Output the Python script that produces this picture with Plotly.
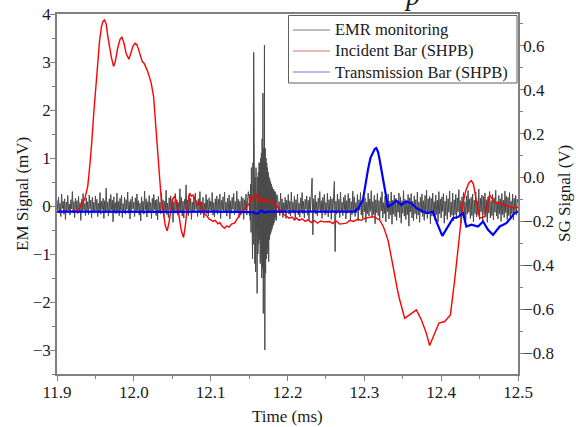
import numpy as np
import plotly.graph_objects as go

# ---------------- data ----------------
# EMR monitoring (mV), left axis; three sampled segments
emr_a_start, emr_a_step = 11.900, 0.001
emr_a = [0.12, -0.08, 0.18, -0.15, 0.06, -0.22, 0.25, -0.05, 0.10, -0.17,
         0.15, -0.28, 0.08, -0.11, 0.22, -0.09, 0.04, -0.19, 0.13, -0.06,
         0.30, -0.14, 0.09, -0.24, 0.16, -0.07, 0.11, -0.16, 0.20, -0.10,
         0.07, -0.30, 0.14, -0.12, 0.26, -0.08, 0.05, -0.20, 0.17, -0.13,
         0.09, -0.18, 0.23, -0.06, 0.12, -0.25, 0.18, -0.11, 0.08, -0.15,
         0.21, -0.09, 0.14, -0.22, 0.06, -0.13, 0.28, -0.17, 0.10, -0.07,
         0.16, -0.26, 0.11, -0.14, 0.37, -0.10, 0.08, -0.21, 0.15, -0.12,
         0.24, -0.08, 0.12, -0.33, 0.19, -0.10, 0.07, -0.16, 0.27, -0.13,
         0.10, -0.20, 0.16, -0.09, 0.22, -0.24, 0.05, -0.12, 0.18, -0.17,
         0.13, -0.07, 0.29, -0.15, 0.09, -0.27, 0.14, -0.10, 0.20, -0.06,
         0.08, -0.22, 0.17, -0.13, 0.25, -0.09, 0.11, -0.19, 0.06, -0.31,
         0.19, -0.12, 0.10, -0.17, 0.31, -0.08, 0.15, -0.23, 0.09, -0.14,
         0.22, -0.10, 0.07, -0.26, 0.16, -0.12, 0.24, -0.07, 0.12, -0.20,
         0.14, -0.29, 0.20, -0.11, 0.08, -0.16, 0.27, -0.09, 0.13, -0.22,
         0.10, -0.14, 0.33, -0.18, 0.06, -0.24, 0.17, -0.08, 0.21, -0.12,
         0.15, -0.34, 0.09, -0.15, 0.26, -0.10, 0.12, -0.19, 0.07, -0.13,
         0.36, -0.11, 0.18, -0.21, 0.10, -0.25, 0.14, -0.08, 0.44, -0.16,
         0.12, -0.20, 0.23, -0.09, 0.16, -0.28, 0.08, -0.14, 0.19, -0.11,
         0.27, -0.07, 0.11, -0.22, 0.15, -0.12, 0.30, -0.18, 0.09, -0.15,
         0.18, -0.25, 0.06, -0.10, 0.24, -0.16, 0.13, -0.21, 0.17, -0.08,
         0.10, -0.13, 0.28, -0.19, 0.07, -0.23, 0.15, -0.11, 0.21, -0.17,
         0.14, -0.09, 0.25, -0.26, 0.12, -0.08, 0.19, -0.14, 0.29, -0.12,
         0.08, -0.21, 0.16, -0.10, 0.23, -0.27, 0.11, -0.15, 0.18, -0.07,
         0.26, -0.18, 0.09, -0.13, 0.31, -0.11, 0.14, -0.24, 0.10, -0.16,
         0.20, -0.12, 0.17, -0.28, 0.13, -0.09, 0.25, -0.19, 0.11, 0.30]

emr_b_start, emr_b_step = 12.150, 0.0005
emr_b = [0.15, -0.20, 0.25, -0.30, 0.45, -0.55, 0.80, -0.70, 0.60, -1.10,
         0.90, -0.80, 3.20, -0.90, 0.70, -1.20, 0.60, -1.37, 0.80, -0.90,
         0.50, -1.82, 0.60, -1.00, 0.70, -0.80, 0.90, -0.70, 0.90, -1.20,
         1.00, -1.00, 1.10, -1.50, 1.40, -1.30, 2.35, -2.24, 1.20, -1.50,
         3.35, -3.00, 1.20, -1.40, 1.00, -1.10, 0.90, -1.00, 0.80, -0.90,
         0.70, -1.16, 0.60, -0.70, 0.55, -0.60, 0.50, -0.55, 0.45, -0.50,
         0.40, -0.45, 0.35, -0.40, 0.35, -0.35, 0.30, -0.30, 0.30, -0.25,
         0.25, -0.30, 0.20]

emr_c_start, emr_c_step = 12.187, 0.001
emr_c = [0.22, -0.14, 0.09, -0.20, 0.27, -0.11, 0.15, -0.24, 0.07, -0.13,
         0.18, -0.26, 0.12, -0.08, 0.24, -0.17, 0.10, -0.21, 0.29, -0.12,
         0.08, -0.15, 0.20, -0.27, 0.13, -0.09, 0.25, -0.18, 0.06, -0.23,
         0.17, -0.11, 0.28, -0.16, 0.10, -0.25, 0.14, -0.07, 0.21, -0.19,
         0.12, -0.28, 0.19, -0.10, 0.26, 0.58, -0.60, 0.15, -0.12, 0.23,
         -0.17, 0.09, -0.21, 0.16, -0.08, 0.30, -0.14, 0.11, -0.26, 0.18,
         -0.10, 0.24, -0.19, 0.07, -0.15, 0.27, -0.23, 0.13, -0.09, 0.20,
         -0.28, 0.15, -0.12, 0.22, 0.51, -0.95, 0.10, -0.17, 0.25, -0.11,
         0.14, -0.24, 0.29, -0.13, 0.08, -0.20, 0.18, -0.09, 0.23, -0.27,
         0.11, -0.15, 0.26, -0.10, 0.16, -0.29, 0.09, -0.18, 0.31, -0.12,
         0.19, -0.22, 0.07, -0.14, 0.24, -0.31, 0.13, -0.09, 0.28, -0.19,
         0.10, -0.26, 0.21, -0.12, 0.17, -0.34, 0.08, -0.16, 0.27, -0.21,
         0.15, -0.11, 0.32, -0.24, 0.09, -0.18, 0.22, -0.37, 0.13, -0.14,
         0.26, -0.20, 0.11, -0.29, 0.18, -0.10, 0.30, -0.25, 0.07, -0.16,
         0.21, -0.33, 0.14, -0.12, 0.25, -0.27, 0.10, -0.19, 0.29, -0.38,
         0.12, -0.17, 0.23, -0.22, 0.16, -0.30, 0.08, -0.13, 0.27, -0.24,
         0.19, -0.36, 0.11, -0.15, 0.32, -0.21, 0.14, -0.28, 0.09, -0.18,
         0.24, -0.42, 0.17, -0.12, 0.26, -0.25, 0.10, -0.31, 0.21, -0.16,
         0.13, -0.27, 0.29, -0.19, 0.08, -0.34, 0.18, -0.14, 0.25, -0.22,
         0.11, -0.30, 0.22, -0.17, 0.33, -0.26, 0.15, -0.12, 0.20, -0.37,
         0.16, -0.21, 0.27, -0.14, 0.09, -0.29, 0.23, -0.18, 0.12, -0.33,
         0.30, -0.16, 0.14, -0.25, 0.19, -0.11, 0.26, -0.36, 0.10, -0.20,
         0.22, -0.28, 0.15, -0.13, 0.31, -0.23, 0.08, -0.19, 0.27, -0.31,
         0.13, -0.18, 0.24, -0.27, 0.17, -0.12, 0.34, -0.22, 0.11, -0.35,
         0.19, -0.15, 0.28, -0.24, 0.09, -0.30, 0.21, -0.17, 0.32, -0.13,
         0.14, -0.26, 0.18, -0.20, 0.25, -0.33, 0.12, -0.16, 0.29, -0.23,
         0.10, -0.19, 0.35, -0.28, 0.16, -0.12, 0.23, -0.31, 0.20, -0.17,
         0.27, -0.22, 0.13, -0.34, 0.19, -0.15, 0.30, -0.25, 0.11, -0.20,
         0.24, -0.29, 0.17, -0.13, 0.33, -0.21, 0.09, -0.27, 0.22, -0.16,
         0.15, -0.32, 0.26, -0.18, 0.12, -0.24, 0.31, -0.14, 0.20, -0.28,
         0.18, -0.20, 0.28, -0.23, 0.10, -0.17, 0.25, -0.29, 0.16, -0.12,
         0.22, -0.19, 0.14, 0.08]

# Incident bar (V), right axis
inc_t = [11.900, 11.905, 11.910, 11.915, 11.920, 11.925, 11.929, 11.933, 11.936, 11.938,
         11.940, 11.942, 11.9445, 11.948, 11.951, 11.953, 11.9555, 11.958, 11.960, 11.9618,
         11.964, 11.9662, 11.9685, 11.9706, 11.9736, 11.976, 11.979, 11.982, 11.9844, 11.987,
         11.990, 11.9935, 11.996, 11.999, 12.0018, 12.004, 12.006, 12.008, 12.011, 12.0135,
         12.016, 12.018, 12.0205, 12.0226, 12.0257, 12.0292, 12.0326, 12.0357, 12.038, 12.041,
         12.0435, 12.046, 12.049, 12.051, 12.053, 12.056, 12.059, 12.062, 12.0647, 12.067,
         12.070, 12.0725, 12.075, 12.077, 12.080, 12.083, 12.086, 12.089, 12.092, 12.095,
         12.098, 12.1005, 12.103, 12.106, 12.1094, 12.112, 12.115, 12.118, 12.121, 12.124,
         12.127, 12.131, 12.134, 12.137, 12.140, 12.143, 12.147, 12.1507, 12.153, 12.156,
         12.159, 12.162, 12.165, 12.168, 12.171, 12.174, 12.177, 12.180, 12.183, 12.186,
         12.190, 12.194, 12.198, 12.202, 12.206, 12.209, 12.2115, 12.215, 12.219, 12.223,
         12.227, 12.231, 12.235, 12.239, 12.243, 12.247, 12.2548, 12.259, 12.263, 12.268,
         12.2766, 12.281, 12.286, 12.291, 12.296, 12.301, 12.306, 12.311, 12.3155, 12.3199,
         12.325, 12.3307, 12.335, 12.3395, 12.343, 12.346, 12.349, 12.3525, 12.357, 12.3612,
         12.3677, 12.3742, 12.3807, 12.385, 12.3875, 12.390, 12.3935, 12.3971, 12.4046, 12.412,
         12.4176, 12.424, 12.4284, 12.432, 12.436, 12.4393, 12.442, 12.445, 12.448, 12.450,
         12.4567, 12.460, 12.4631, 12.466, 12.469, 12.472, 12.476, 12.4827, 12.488, 12.4935,
         12.500]
inc_v = [-0.155, -0.158, -0.152, -0.157, -0.153, -0.150, -0.140, -0.120, -0.100, -0.070,
         -0.041, 0.030, 0.126, 0.300, 0.445, 0.540, 0.627, 0.690, 0.712, 0.718,
         0.700, 0.642, 0.590, 0.551, 0.506, 0.530, 0.590, 0.630, 0.640, 0.615,
         0.565, 0.539, 0.565, 0.600, 0.612, 0.605, 0.585, 0.565, 0.528, 0.520,
         0.500, 0.483, 0.455, 0.430, 0.369, 0.200, 0.005, -0.100, -0.150, -0.220,
         -0.243, -0.200, -0.130, -0.095, -0.087, -0.110, -0.180, -0.245, -0.273, -0.220,
         -0.120, -0.071, -0.085, -0.080, -0.100, -0.124, -0.115, -0.140, -0.165, -0.175,
         -0.190, -0.193, -0.200, -0.195, -0.211, -0.205, -0.222, -0.231, -0.220, -0.226,
         -0.212, -0.208, -0.190, -0.175, -0.162, -0.150, -0.130, -0.117, -0.087, -0.095,
         -0.075, -0.110, -0.090, -0.115, -0.100, -0.105, -0.112, -0.108, -0.118, -0.130,
         -0.147, -0.165, -0.175, -0.185, -0.180, -0.193, -0.184, -0.195, -0.188, -0.200,
         -0.192, -0.205, -0.196, -0.208, -0.198, -0.202, -0.200, -0.210, -0.198, -0.212,
         -0.208, -0.195, -0.200, -0.190, -0.195, -0.185, -0.182, -0.178, -0.185, -0.193,
         -0.225, -0.284, -0.360, -0.451, -0.510, -0.557, -0.600, -0.641, -0.630, -0.618,
         -0.603, -0.648, -0.709, -0.765, -0.745, -0.724, -0.690, -0.663, -0.656, -0.626,
         -0.466, -0.253, -0.117, -0.060, -0.025, -0.014, -0.030, -0.090, -0.160, -0.185,
         -0.178, -0.120, -0.079, -0.095, -0.110, -0.117, -0.115, -0.124, -0.130, -0.139,
         -0.135]

# Transmission bar (V), right axis
tra_t = [11.900, 11.950, 12.000, 12.050, 12.100, 12.150, 12.155, 12.160, 12.163, 12.166,
         12.170, 12.175, 12.200, 12.250, 12.2874, 12.292, 12.2982, 12.301, 12.3047, 12.308,
         12.3121, 12.3135, 12.3156, 12.318, 12.3199, 12.323, 12.3264, 12.3307, 12.3352, 12.3417,
         12.3482, 12.3547, 12.3612, 12.3677, 12.3764, 12.3828, 12.3893, 12.3937, 12.4015, 12.4089,
         12.4154, 12.4219, 12.4284, 12.4328, 12.4393, 12.448, 12.4545, 12.461, 12.4675, 12.4762,
         12.4849, 12.4957, 12.500]
tra_v = [-0.155, -0.156, -0.154, -0.156, -0.155, -0.156, -0.158, -0.165, -0.160, -0.150,
         -0.160, -0.155, -0.156, -0.155, -0.155, -0.140, -0.102, -0.040, 0.035, 0.090,
         0.118, 0.130, 0.134, 0.115, 0.081, 0.020, -0.041, -0.132, -0.124, -0.105,
         -0.124, -0.109, -0.117, -0.139, -0.155, -0.162, -0.155, -0.200, -0.266, -0.223,
         -0.185, -0.180, -0.162, -0.223, -0.215, -0.223, -0.200, -0.238, -0.261, -0.223,
         -0.208, -0.162, -0.155]

series_names = ["EMR monitoring", "Incident Bar (SHPB)", "Transmission Bar (SHPB)"]
legend_line_colors = ["#a8a8a8", "#eaa0a0", "#a0a0ea"]

x_range = [11.9, 12.5]
y_left_range = [-3.5, 4.0]
y_right_range = [-0.895, 0.745]

# ---------------- figure ----------------
W, H = 576, 427
ML, MR, MT, MB = 57, 58, 14, 53
PW, PH = W - ML - MR, H - MT - MB


def px(xp):  # pixel x -> paper x
    return (xp - ML) / PW


def py(yp):  # pixel y -> paper y
    return (H - MB - yp) / PH


emr_t = np.concatenate([
    emr_a_start + emr_a_step * np.arange(len(emr_a)),
    emr_b_start + emr_b_step * np.arange(len(emr_b)),
    emr_c_start + emr_c_step * np.arange(len(emr_c)),
])
emr_v = emr_a + emr_b + emr_c

FONT = "Liberation Serif, Times New Roman, Times, serif"
AX = "#808080"
TXT = "#1a1a1a"

fig = go.Figure()
fig.add_trace(go.Scatter(x=emr_t, y=emr_v, mode="lines", name=series_names[0],
                         line=dict(color="#4a4a4a", width=1), yaxis="y", showlegend=False))
fig.add_trace(go.Scatter(x=inc_t, y=inc_v, mode="lines", name=series_names[1],
                         line=dict(color="#ff0000", width=1.4), yaxis="y2", showlegend=False))
fig.add_trace(go.Scatter(x=tra_t, y=tra_v, mode="lines", name=series_names[2],
                         line=dict(color="#0000ff", width=2.2), yaxis="y2", showlegend=False))

# legend drawn as box + sample lines + text
shapes = [dict(type="rect", xref="paper", yref="paper",
               x0=px(288.5), x1=px(517), y0=py(83), y1=py(15.5),
               line=dict(color="#606060", width=1), fillcolor="white", layer="above")]
annotations = []
row_y = [30, 51, 72]
for name, col, ry in zip(series_names, legend_line_colors, row_y):
    shapes.append(dict(type="line", xref="paper", yref="paper",
                       x0=px(293), x1=px(330), y0=py(ry), y1=py(ry),
                       line=dict(color=col, width=1.5), layer="above"))
    annotations.append(dict(text=name, xref="paper", yref="paper", x=px(333), y=py(ry),
                            xanchor="left", yanchor="middle", showarrow=False,
                            font=dict(family=FONT, size=16.5, color=TXT)))

annotations += [
    dict(text="Time (ms)", xref="paper", yref="paper", x=0.5, y=py(416),
         xanchor="center", yanchor="middle", showarrow=False,
         font=dict(family=FONT, size=17, color=TXT)),
    dict(text="EM Signal (mV)", xref="paper", yref="paper", x=px(22), y=0.5,
         xanchor="center", yanchor="middle", textangle=-90, showarrow=False,
         font=dict(family=FONT, size=17, color=TXT)),
    dict(text="SG Signal (V)", xref="paper", yref="paper", x=px(564), y=0.5,
         xanchor="center", yanchor="middle", textangle=-90, showarrow=False,
         font=dict(family=FONT, size=17, color=TXT)),
    dict(text="<i>p</i>", xref="paper", yref="paper", x=px(412), y=py(13),
         xanchor="center", yanchor="bottom", showarrow=False,
         font=dict(family=FONT, size=28, color=TXT)),
]

tickfont = dict(family=FONT, size=17, color=TXT)
fig.update_layout(
    width=W, height=H,
    margin=dict(l=ML, r=MR, t=MT, b=MB, autoexpand=False),
    paper_bgcolor="white", plot_bgcolor="white",
    font=dict(family=FONT, size=17, color=TXT),
    showlegend=False,
    xaxis=dict(range=x_range, tick0=11.9, dtick=0.1, tickformat=".1f", automargin=False,
               ticks="outside", ticklen=5, tickwidth=1, tickcolor=AX, ticklabelstandoff=-3,
               showline=True, linecolor=AX, linewidth=1.5, mirror=True,
               showgrid=False, zeroline=False, tickfont=tickfont,
               minor=dict(dtick=0.05, tick0=11.9, ticks="outside", ticklen=3, tickcolor=AX)),
    yaxis=dict(range=y_left_range, tick0=0, dtick=1, automargin=False,
               ticks="outside", ticklen=5, tickwidth=1, tickcolor=AX, ticklabelstandoff=-4,
               showline=True, linecolor=AX, linewidth=1.5,
               showgrid=False, zeroline=False, tickfont=tickfont,
               minor=dict(dtick=0.5, tick0=0, ticks="outside", ticklen=3, tickcolor=AX)),
    yaxis2=dict(range=y_right_range, overlaying="y", side="right", tick0=0, dtick=0.2,
                tickformat=".1f", automargin=False, ticks="outside", ticklen=5, tickwidth=1,
                tickcolor=AX, ticklabelstandoff=-5, showline=True, linecolor=AX, linewidth=1.5,
                showgrid=False, zeroline=False, tickfont=tickfont,
                minor=dict(dtick=0.1, tick0=0, ticks="outside", ticklen=3, tickcolor=AX)),
    shapes=shapes,
    annotations=annotations,
)

fig.write_html("out.html", config={"displayModeBar": False},
               post_script="document.body.style.margin='0';document.body.style.padding='0';")
